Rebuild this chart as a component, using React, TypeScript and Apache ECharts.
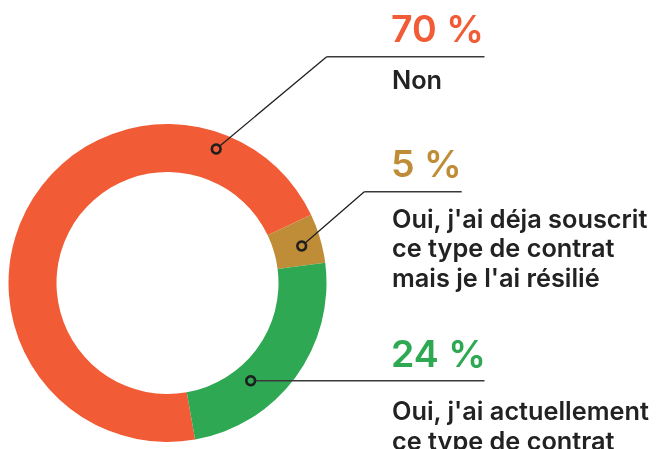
import React, { useEffect, useRef } from "react";
import * as echarts from "echarts";

const categories = ["Non", "Oui, j'ai déja souscrit ce type de contrat mais je l'ai résilié", "Oui, j'ai actuellement ce type de contrat"];
const values = [70, 5, 24];
const percentLabels = ["70 %", "5 %", "24 %"];
const bodyLines = [
  ["Non"],
  ["Oui, j'ai déja souscrit", "ce type de contrat", "mais je l'ai résilié"],
  ["Oui, j'ai actuellement", "ce type de contrat"],
];
const colors = ["#F15B35", "#BF8D38", "#2EA853"];

const FONT = "Inter";

export default function App() {
  const ref = useRef<HTMLDivElement>(null);
  useEffect(() => {
    if (!ref.current) return;
    const chart = echarts.init(ref.current, null, { renderer: "svg" });
    const cx = 167.5, cy = 283;
    const pctSize = 37.5;
    const bodySize = 25.3;
    const dark = "#1f1f1f";
    const textX = 391;
    const pctBaselines = [42, 176.7, 366.7];
    const bodyBaselines = [[89], [227.3, 256.8, 286.5], [420, 450]];
    const markers = [[216.2, 149], [301.7, 246], [250.7, 380.7]];
    const corners = [[326.7, 56.7], [364.3, 191.7], [250.7, 380.7]];
    const lineEnds = [484.5, 461.7, 484.5];

    const graphic: any[] = [];
    for (let i = 0; i < 3; i++) {
      const [mx, my] = markers[i];
      const [kx, ky] = corners[i];
      if (i < 2) {
        graphic.push({ type: "line", shape: { x1: mx, y1: my, x2: kx, y2: ky }, style: { stroke: dark, lineWidth: 1.3 }, z: 10 });
      }
      graphic.push({ type: "line", shape: { x1: kx, y1: ky, x2: lineEnds[i], y2: ky }, style: { stroke: "#3a3a3a", lineWidth: 1.5 }, z: 10 });
      graphic.push({ type: "circle", shape: { cx: mx, cy: my, r: 4.4 }, style: { fill: colors[i], stroke: dark, lineWidth: 2.6 }, z: 11 });
      graphic.push({
        type: "text", x: textX, y: pctBaselines[i] - pctSize * 0.36,
        style: { text: percentLabels[i], fill: colors[i], font: `600 ${pctSize}px ${FONT}`, verticalAlign: "middle", align: "left" },
      });
      bodyLines[i].forEach((t, j) => {
        graphic.push({
          type: "text", x: textX + 1, y: bodyBaselines[i][j] - bodySize * 0.36,
          style: { text: t, fill: "#222222", font: `600 ${bodySize}px ${FONT}`, verticalAlign: "middle", align: "left" },
        });
      });
    }

    chart.setOption({
      animation: false,
      series: [
        {
          type: "pie",
          center: [cx, cy],
          radius: [111, 159],
          startAngle: 280,
          clockwise: true,
          label: { show: false },
          labelLine: { show: false },
          emphasis: { disabled: true },
          silent: true,
          data: categories.map((c, i) => ({ name: c, value: values[i], itemStyle: { color: colors[i] } })),
        },
      ],
      graphic,
    });
    return () => chart.dispose();
  }, []);
  return <div ref={ref} style={{ position: "fixed", left: 0, top: 0, width: 659, height: 449 }} />;
}
